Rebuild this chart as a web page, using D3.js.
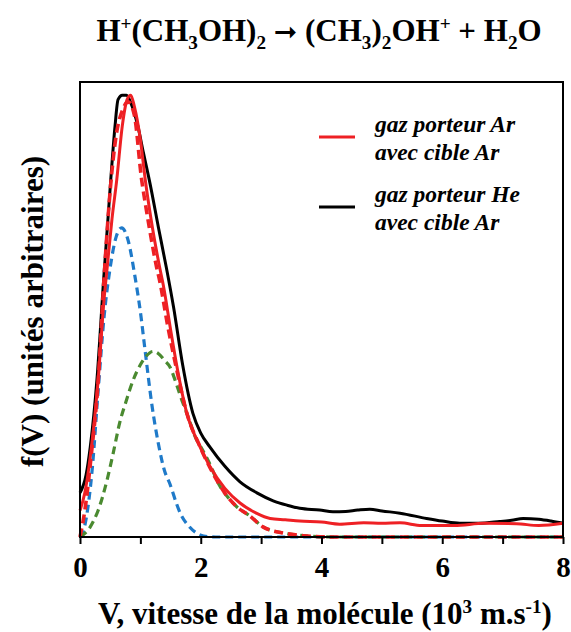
<!DOCTYPE html>
<html><head><meta charset="utf-8">
<script src="https://cdn.jsdelivr.net/npm/d3@7"></script>
<style>
html,body{margin:0;padding:0;background:#fff;}
</style></head>
<body>
<svg id="c" width="571" height="632"></svg>
<script>
// He carrier gas, Ar target (black)
const heV = [0,0.1,0.17,0.28,0.39,0.51,0.58,0.63,0.7,0.77,0.85,0.95,1.05,1.16,1.3,1.43,1.55,1.7,1.87,2.0,2.15,2.4,2.65,2.93,3.2,3.43,3.64,3.97,4.19,4.4,4.6,4.8,5.0,5.3,5.74,6.0,6.29,6.6,6.95,7.15,7.34,7.6,7.8,8.0];
const heF = [0.10,0.14,0.204,0.355,0.58,0.81,0.93,0.99,1.0,1.0,0.98,0.935,0.87,0.80,0.70,0.61,0.52,0.39,0.28,0.235,0.204,0.16,0.125,0.10,0.082,0.072,0.065,0.061,0.057,0.058,0.061,0.063,0.059,0.054,0.042,0.036,0.031,0.031,0.035,0.038,0.042,0.040,0.036,0.031];
// Ar carrier gas, Ar target (red solid)
const arV = [0,0.08,0.19,0.3,0.4,0.45,0.53,0.61,0.7,0.78,0.84,0.9,1.0,1.08,1.2,1.32,1.38,1.5,1.6,1.77,1.95,2.15,2.4,2.65,2.92,3.15,3.4,3.64,4.0,4.3,4.7,5.0,5.3,5.66,6.2,6.7,7.23,7.6,8.0];
const arF = [0.06,0.10,0.204,0.355,0.54,0.61,0.72,0.81,0.93,0.99,1.0,0.975,0.90,0.81,0.70,0.61,0.57,0.47,0.39,0.28,0.215,0.16,0.11,0.077,0.054,0.042,0.039,0.036,0.034,0.029,0.032,0.031,0.032,0.026,0.026,0.031,0.030,0.026,0.031];
// total fit (red dashed)
const fitV = [0,0.08,0.19,0.3,0.4,0.51,0.6,0.7,0.8,0.9,1.02,1.1,1.2,1.27,1.32,1.45,1.6,1.77,1.99,2.26,2.45,2.6,2.81,3.03,3.37,3.7,4.2,8.0];
const fitF = [0,0.06,0.19,0.35,0.59,0.80,0.91,0.965,0.985,0.955,0.81,0.74,0.66,0.61,0.58,0.48,0.38,0.28,0.204,0.13,0.09,0.068,0.048,0.023,0.009,0.003,0,0];
// component 1 (blue dashed)
const c1V = [0,0.05,0.1,0.2,0.3,0.4,0.5,0.6,0.69,0.8,0.91,1.0,1.08,1.19,1.3,1.4,1.49,1.6,1.66,1.8,1.93,2.05,2.3,8.0];
const c1F = [0,0.01,0.04,0.15,0.33,0.50,0.61,0.68,0.70,0.67,0.59,0.51,0.42,0.30,0.21,0.15,0.12,0.075,0.054,0.025,0.009,0.002,0,0];
// component 2 (green dashed)
const c2V = [0,0.17,0.3,0.45,0.55,0.66,0.77,0.88,1.0,1.1,1.21,1.3,1.4,1.49,1.6,1.7,1.77,1.93,2.0,2.2,2.26,2.45,2.6,2.81,3.03,3.37,3.7,4.2,8.0];
const c2F = [0,0.023,0.06,0.13,0.19,0.26,0.31,0.355,0.39,0.41,0.42,0.415,0.40,0.385,0.345,0.305,0.28,0.22,0.204,0.15,0.13,0.09,0.068,0.048,0.023,0.009,0.003,0,0];

const xTicks = [0,1,2,3,4,5,6,7,8];
const xTickLabels = ["0","","2","","4","","6","","8"];
const legendLabels = [["gaz porteur Ar","avec cible Ar"],["gaz porteur He","avec cible Ar"]];

const FONT = "'Liberation Serif','Times New Roman',Tinos,'DejaVu Serif','Noto Serif',serif";
const W = 571, H = 632;
const m = {left:80, right:563, top:82, bottom:537};
const svg = d3.select("#c").attr("font-family",FONT).attr("font-weight","bold");
const x = d3.scaleLinear().domain([0,8]).range([m.left, m.right]);
const y = d3.scaleLinear().domain([0,1.03]).range([m.bottom, m.top]);

const zip = (a,b)=>a.map((v,i)=>[v,b[i]]);
const line = d3.line().x(d=>x(d[0])).y(d=>y(d[1])).curve(d3.curveMonotoneX);

const plot = svg.append("g");
plot.append("path").datum(zip(c1V,c1F)).attr("d",line).attr("fill","none")
  .attr("stroke","#1f7ac9").attr("stroke-width",3.2).attr("stroke-dasharray","8,5");
plot.append("path").datum(zip(c2V,c2F)).attr("d",line).attr("fill","none")
  .attr("stroke","#4a8a30").attr("stroke-width",3.2).attr("stroke-dasharray","8,5");
plot.append("path").datum(zip(heV,heF)).attr("d",line).attr("fill","none")
  .attr("stroke","#000").attr("stroke-width",3);
plot.append("path").datum(zip(arV,arF)).attr("d",line).attr("fill","none")
  .attr("stroke","#ee2024").attr("stroke-width",3);
plot.append("path").datum(zip(fitV,fitF)).attr("d",line).attr("fill","none")
  .attr("stroke","#ee2024").attr("stroke-width",3.6).attr("stroke-dasharray","9,5");

// frame
svg.append("rect").attr("x",m.left).attr("y",m.top).attr("width",m.right-m.left).attr("height",m.bottom-m.top)
  .attr("fill","none").attr("stroke","#000").attr("stroke-width",2);

// x axis
const xAxis = d3.axisBottom(x).tickValues(xTicks).tickSize(7).tickPadding(12)
  .tickFormat((d,i)=>xTickLabels[i]);
const gx = svg.append("g").attr("transform",`translate(0,${m.bottom})`).call(xAxis)
  .attr("font-family",FONT).attr("font-size",29);
gx.select(".domain").remove();
gx.selectAll(".tick line").attr("stroke","#000").attr("stroke-width",2);
gx.selectAll(".tick text").attr("fill","#000");

// helper for rich text with sub/superscripts
function rich(sel, segs, baseSize){
  let off = 0;
  segs.forEach(s=>{
    const target = s.sub ? baseSize*0.25 : s.sup ? -baseSize*0.36 : 0;
    const ts = sel.append("tspan").text(s.t).attr("dy", target-off);
    if (s.sub || s.sup) ts.attr("font-size", baseSize*0.62);
    if (s.font) ts.attr("font-family", s.font);
    if (s.size) ts.attr("font-size", s.size);
    off = target;
  });
}

// x label
const xlSize = 31;
const xl = svg.append("text").attr("x",325).attr("y",624).attr("text-anchor","middle").attr("font-size",xlSize);
rich(xl, [{t:"V, vitesse de la molécule (10"},{t:"3",sup:true},{t:" m.s"},{t:"-1",sup:true},{t:")"}], xlSize);

// y label
svg.append("text").attr("transform",`translate(43,${(m.top+m.bottom)/2+2}) rotate(-90)`)
  .attr("text-anchor","middle").attr("font-size",31).text("f(V) (unités arbitraires)");

// title
const tSize = 31;
const t = svg.append("text").attr("x",319).attr("y",41).attr("text-anchor","middle").attr("font-size",tSize);
rich(t, [{t:"H"},{t:"+",sup:true},{t:"(CH"},{t:"3",sub:true},{t:"OH)"},{t:"2",sub:true},{t:" "},
  {t:"➞",font:"'DejaVu Sans'",size:28},{t:" (CH"},{t:"3",sub:true},{t:")"},{t:"2",sub:true},{t:"OH"},{t:"+",sup:true},
  {t:" + H"},{t:"2",sub:true},{t:"O"}], tSize);

// legend
const legColors = ["#ee2024","#000"];
const leg = svg.append("g");
legendLabels.forEach((lines,i)=>{
  const yy = 137 + i*70;
  leg.append("line").attr("x1",319).attr("x2",355).attr("y1",yy).attr("y2",yy)
    .attr("stroke",legColors[i]).attr("stroke-width",3);
  lines.forEach((s,j)=>{
    leg.append("text").attr("x",375).attr("y",yy-5+j*28).attr("font-size",23.5)
      .attr("font-style","italic").text(s);
  });
});
</script>
</body></html>
